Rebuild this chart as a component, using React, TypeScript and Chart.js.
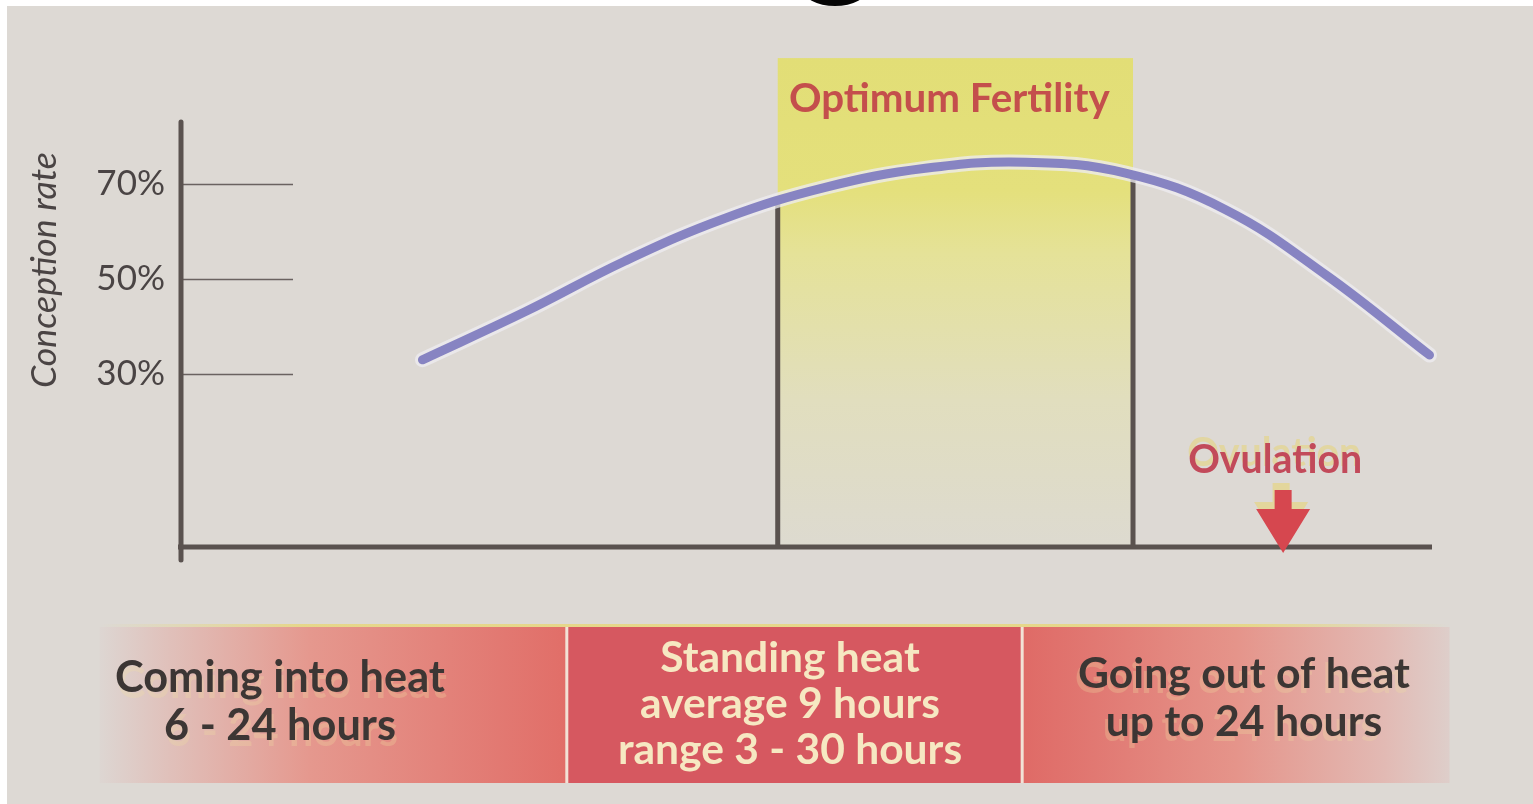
import React, { useEffect, useRef } from "react";
import { Chart, registerables } from "chart.js";

Chart.register(...registerables);

// ---- data (positions on a 0-100 heat-cycle timeline, conception rate in %) ----
const timeline = [19.3, 27.5, 35.5, 43.5, 51.5, 59.5, 67.5, 75.5, 83.5, 91.5, 99.8];
const conceptionRate = [33.0, 43.1, 53.8, 62.8, 69.3, 73.3, 74.6, 72.3, 64.6, 50.9, 34.0];
const rateTicks = [30, 50, 70];
const fertilityWindow = [47.7, 76.1];
const fertilityBoxTop = 96.5;
const ovulationAt = 88.1;
const phaseBounds = [-6.5, 30.8, 67.2, 101.4];
const phaseLines = [
  ["Coming into heat", "6 - 24 hours"],
  ["Standing heat", "average 9 hours", "range 3 - 30 hours"],
  ["Going out of heat", "up to 24 hours"],
];

// ---- style ----
const FAMILY = 'Lato, "Open Sans", "Noto Sans", sans-serif';
const BG = "rgb(221,217,212)";
const AXIS = "#5a524f";
const CURVE = "#8784c2";
const RED_TEXT = "#c44f4c";

function fitFont(ctx: CanvasRenderingContext2D, text: string, width: number, weight: string, style: string) {
  ctx.font = `${style} ${weight} 100px ${FAMILY}`;
  const w = ctx.measureText(text).width;
  return (100 * width) / w;
}

const artPlugin = {
  id: "art",
  beforeDraw(chart: any) {
    const { ctx, width, height } = chart;
    const xs = chart.scales.x;
    const ys = chart.scales.y;
    ctx.save();
    ctx.fillStyle = "#ffffff";
    ctx.fillRect(0, 0, width, height);
    ctx.fillStyle = BG;
    ctx.fillRect(7, 6, width - 7, height - 6);

    // fragment of a glyph from the page above
    ctx.fillStyle = "#050505";
    ctx.beginPath();
    ctx.ellipse(835, -12, 33, 18, 0, 0, Math.PI * 2);
    ctx.fill();

    // optimum fertility box
    const bx0 = xs.getPixelForValue(fertilityWindow[0]);
    const bx1 = xs.getPixelForValue(fertilityWindow[1]);
    const by0 = ys.getPixelForValue(fertilityBoxTop);
    const by1 = ys.getPixelForValue(ys.min);
    const g = ctx.createLinearGradient(0, by0, 0, by1);
    g.addColorStop(0, "rgb(226,222,118)");
    g.addColorStop(0.27, "rgb(228,224,124)");
    g.addColorStop(0.4, "rgb(229,226,152)");
    g.addColorStop(0.7, "rgb(225,222,190)");
    g.addColorStop(1, "rgb(221,218,208)");
    ctx.fillStyle = g;
    ctx.fillRect(bx0, by0, bx1 - bx0, by1 - by0);

    // phase band
    const top = 627;
    const bot = 783;
    const px = phaseBounds.map((v) => xs.getPixelForValue(v));
    const g1 = ctx.createLinearGradient(px[0], 0, px[1], 0);
    g1.addColorStop(0, "rgb(221,214,210)");
    g1.addColorStop(0.15, "rgb(224,192,186)");
    g1.addColorStop(0.45, "rgb(229,152,142)");
    g1.addColorStop(1, "rgb(225,110,104)");
    ctx.fillStyle = g1;
    ctx.fillRect(px[0], top, px[1] - px[0], bot - top);
    ctx.fillStyle = "rgb(214,88,96)";
    ctx.fillRect(px[1], top, px[2] - px[1], bot - top);
    const g3 = ctx.createLinearGradient(px[2], 0, px[3], 0);
    g3.addColorStop(0, "rgb(223,106,102)");
    g3.addColorStop(0.5, "rgb(229,148,138)");
    g3.addColorStop(0.85, "rgb(226,186,180)");
    g3.addColorStop(1, "rgb(222,206,202)");
    ctx.fillStyle = g3;
    ctx.fillRect(px[2], top, px[3] - px[2], bot - top);
    // yellow rim on top
    const gy = ctx.createLinearGradient(px[0], 0, px[3], 0);
    gy.addColorStop(0, "rgba(232,214,120,0)");
    gy.addColorStop(0.15, "rgba(232,214,120,0.8)");
    gy.addColorStop(0.85, "rgba(232,214,120,0.8)");
    gy.addColorStop(1, "rgba(232,214,120,0)");
    ctx.fillStyle = gy;
    ctx.fillRect(px[0], top - 3, px[3] - px[0], 3);
    // separators
    ctx.fillStyle = "rgb(242,226,214)";
    ctx.fillRect(px[1] - 1, top, 3, bot - top);
    ctx.fillRect(px[2] - 1, top, 3, bot - top);
    ctx.restore();
  },
  beforeDatasetsDraw(chart: any) {
    const { ctx, chartArea } = chart;
    const xs = chart.scales.x;
    const ys = chart.scales.y;
    ctx.save();
    // short tick lines
    ctx.strokeStyle = "#6a6260";
    ctx.lineWidth = 1.5;
    for (const t of ys.ticks) {
      const py = Math.round(ys.getPixelForValue(t.value)) + 0.5;
      ctx.beginPath();
      ctx.moveTo(chartArea.left, py);
      ctx.lineTo(chartArea.left + 112, py);
      ctx.stroke();
    }
    // axes
    ctx.strokeStyle = AXIS;
    ctx.lineWidth = 5;
    ctx.lineCap = "round";
    ctx.beginPath();
    ctx.moveTo(chartArea.left, chartArea.top);
    ctx.lineTo(chartArea.left, chartArea.bottom + 13);
    ctx.stroke();
    ctx.lineCap = "butt";
    ctx.beginPath();
    ctx.moveTo(chartArea.left - 3, chartArea.bottom);
    ctx.lineTo(chartArea.right, chartArea.bottom);
    ctx.stroke();
    // fertility window verticals
    const line = chart.getDatasetMeta(0).dataset;
    const fallback = [66.4, 71.9];
    fertilityWindow.forEach((v, i) => {
      const px = xs.getPixelForValue(v);
      let topY = ys.getPixelForValue(fallback[i]);
      try {
        const p = line && line.interpolate({ x: px }, "x");
        const pt = Array.isArray(p) ? p[0] : p;
        if (pt && isFinite(pt.y)) topY = pt.y;
      } catch (e) {}
      ctx.beginPath();
      ctx.moveTo(px, topY);
      ctx.lineTo(px, chartArea.bottom);
      ctx.stroke();
    });
    ctx.restore();
  },
  afterDatasetsDraw(chart: any) {
    const { ctx, chartArea } = chart;
    const xs = chart.scales.x;
    ctx.save();
    ctx.textAlign = "center";
    ctx.textBaseline = "alphabetic";

    // Optimum Fertility
    const fx = (xs.getPixelForValue(fertilityWindow[0]) + xs.getPixelForValue(fertilityWindow[1])) / 2;
    let s = fitFont(ctx, "Optimum Fertility", 321, "700", "normal");
    ctx.font = `700 ${s}px ${FAMILY}`;
    ctx.fillStyle = RED_TEXT;
    ctx.fillText("Optimum Fertility", fx - 6, 112);

    // Ovulation + arrow
    const ox = xs.getPixelForValue(ovulationAt);
    s = fitFont(ctx, "Ovulation", 174, "700", "normal");
    ctx.font = `700 ${s}px ${FAMILY}`;
    ctx.fillStyle = "rgba(232,212,110,0.5)";
    ctx.fillText("Ovulation", ox - 9, 466);
    const arrow = (dx: number, dy: number, color: string) => {
      const b = chartArea.bottom + dy;
      ctx.fillStyle = color;
      ctx.beginPath();
      ctx.moveTo(ox + dx - 8.5, b - 57);
      ctx.lineTo(ox + dx + 8.5, b - 57);
      ctx.lineTo(ox + dx + 8.5, b - 38);
      ctx.lineTo(ox + dx + 27, b - 38);
      ctx.lineTo(ox + dx, b + 6);
      ctx.lineTo(ox + dx - 27, b - 38);
      ctx.lineTo(ox + dx - 8.5, b - 38);
      ctx.closePath();
      ctx.fill();
    };
    arrow(-2, -7, "rgba(232,212,110,0.55)");
    arrow(0, 0, "#d6474f");
    ctx.fillStyle = "#c24a5a";
    ctx.fillText("Ovulation", ox - 8, 473);

    // y title
    s = fitFont(ctx, "Conception rate", 236, "400", "italic");
    ctx.save();
    ctx.translate(56, 270);
    ctx.rotate(-Math.PI / 2);
    ctx.font = `italic 400 ${s}px ${FAMILY}`;
    ctx.fillStyle = "#4a4444";
    ctx.fillText("Conception rate", 0, 0);
    ctx.restore();

    // phase band text
    const centers = [280, 790, 1244];
    const widths = [330, 300, 332];
    const baselines = [[692, 740], [672, 718, 764], [688, 736]];
    const colors = ["#3c3634", "#f6e8c2", "#3c3634"];
    const ghost = [[2, 6], null, [-3, 5]];
    phaseLines.forEach((lines, i) => {
      const ref = i === 1 ? lines[1] : lines[0];
      const size = fitFont(ctx, ref, widths[i], "700", "normal");
      ctx.font = `700 ${size}px ${FAMILY}`;
      lines.forEach((t, j) => {
        const gh = ghost[i];
        if (gh) {
          ctx.fillStyle = "rgba(240,222,160,0.28)";
          ctx.fillText(t, centers[i] + gh[0], baselines[i][j] + gh[1]);
        }
        ctx.fillStyle = colors[i];
        ctx.fillText(t, centers[i], baselines[i][j]);
      });
    });
    ctx.restore();
  },
};

export default function App() {
  const ref = useRef<HTMLCanvasElement>(null);
  useEffect(() => {
    document.body.style.margin = "0";
    document.body.style.overflow = "hidden";
    const canvas = ref.current!;
    const points = timeline.map((x, i) => ({ x, y: conceptionRate[i] }));
    const chart = new Chart(canvas, {
      type: "line",
      data: {
        datasets: [
          {
            data: points,
            borderColor: CURVE,
            borderWidth: 9,
            borderCapStyle: "round",
            borderJoinStyle: "round",
            tension: 0.4,
            pointRadius: 0,
            clip: false as any,
          },
          {
            data: points,
            borderColor: "rgba(238,236,242,0.75)",
            borderWidth: 15,
            borderCapStyle: "round",
            tension: 0.4,
            pointRadius: 0,
            clip: false as any,
          },
        ],
      },
      options: {
        animation: false,
        responsive: true,
        maintainAspectRatio: false,
        layout: { padding: { left: 0, top: 122, right: 101, bottom: 257 } },
        plugins: { legend: { display: false }, tooltip: { enabled: false }, title: { display: false } },
        events: [],
        scales: {
          x: { type: "linear", min: 0, max: 100, display: false },
          y: {
            type: "linear",
            min: -6.4,
            max: 83.05,
            afterBuildTicks: (scale: any) => {
              scale.ticks = rateTicks.map((v) => ({ value: v }));
            },
            afterFit: (scale: any) => {
              scale.width = 181;
            },
            grid: { display: false, drawTicks: false },
            border: { display: false },
            ticks: {
              padding: 16,
              color: "#4a4444",
              font: { family: FAMILY, size: 35 },
              callback: (v: any) => `${v}%`,
            },
          },
        },
      },
      plugins: [artPlugin],
    });
    return () => chart.destroy();
  }, []);
  return (
    <div style={{ position: "relative", width: 1533, height: 804 }}>
      <canvas ref={ref} />
    </div>
  );
}
